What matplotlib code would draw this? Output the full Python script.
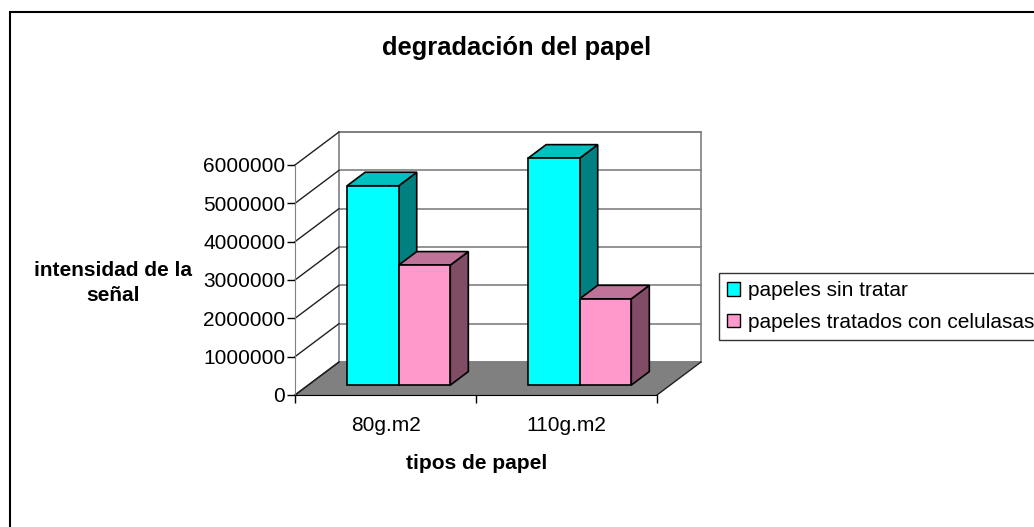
import matplotlib
matplotlib.use("Agg")
import matplotlib.pyplot as plt
from matplotlib.patches import Polygon, Patch, Rectangle
from matplotlib.lines import Line2D

plt.rcParams['font.family'] = ['Liberation Sans', 'DejaVu Sans']

categorias = ['80g.m2', '110g.m2']
series = ['papeles sin tratar', 'papeles tratados con celulasas']
sin_tratar = [5200000, 5920000]
tratados = [3130000, 2250000]
yticks = [0, 1000000, 2000000, 3000000, 4000000, 5000000, 6000000]

# face colours per series: front, top, side
caras = [('#00FFFF', '#00C0C0', '#008080'),
         ('#FF99CC', '#C07399', '#804C66')]

YMAX = 6000000
# oblique depth offset (full depth) in data units
DX = 0.243
DY = YMAX * 33 / 230
BW = 0.285          # bar width in category units
D0, D1 = 0.30, 0.71  # bar depth range


def P(x, v, d):
    return (x + DX * d, v + DY * d)


fig = plt.figure(figsize=(10.34, 5.27), dpi=100)
ax = fig.add_axes([295 / 1034, 1 - 395 / 527, 362 / 1034, 230 / 527])
ax.set_xlim(0, 2)
ax.set_ylim(0, YMAX)
ax.patch.set_visible(False)
for s in ['top', 'right']:
    ax.spines[s].set_visible(False)
ax.spines['left'].set_color('#808080')
ax.spines['bottom'].set_color('black')
ax.spines['left'].set_zorder(6)
ax.spines['bottom'].set_zorder(6)

ax.set_yticks(yticks)
ax.set_yticklabels([str(v) for v in yticks], fontsize=15)
ax.tick_params(axis='y', length=6, width=1, color='black', pad=1)
ax.set_xticks([0, 1, 2])
ax.set_xticklabels([])
ax.set_xticks([0.5, 1.5], minor=True)
ax.set_xticklabels(categorias, minor=True, fontsize=15)
ax.tick_params(axis='x', which='major', length=6, width=1, color='black')
ax.tick_params(axis='x', which='minor', length=0, pad=15)

# back wall and its gridlines
ax.add_patch(Polygon([P(0, 0, 1), P(2, 0, 1), P(2, YMAX, 1), P(0, YMAX, 1)],
                     closed=True, facecolor='white', edgecolor='#808080',
                     lw=1.2, clip_on=False, zorder=1))
for v in yticks:
    xs, ys = zip(P(0, v, 1), P(2, v, 1))
    ax.add_line(Line2D(xs, ys, color='#808080', lw=1.2, clip_on=False, zorder=1))
    xs, ys = zip(P(0, v, 0), P(0, v, 1))
    ax.add_line(Line2D(xs, ys, color='#202020', lw=1, clip_on=False, zorder=1.5))

# floor
ax.add_patch(Polygon([P(0, 0, 0), P(2, 0, 0), P(2, 0, 1), P(0, 0, 1)],
                     closed=True, facecolor='#808080', edgecolor='none',
                     clip_on=False, zorder=1.2))
xs, ys = zip(P(2, 0, 0), P(2, 0, 1))
ax.add_line(Line2D(xs, ys, color='#202020', lw=1, clip_on=False, zorder=1.5))
xs, ys = zip(P(0, 0, 0), P(0, 0, 1))
ax.add_line(Line2D(xs, ys, color='#202020', lw=1, clip_on=False, zorder=1.5))

# bars
z = 3
for i, c in enumerate([0.5, 1.5]):
    for j, vals in enumerate([sin_tratar, tratados]):
        h = vals[i]
        x0 = c - BW + j * BW
        x1 = x0 + BW
        fc, tc, sc = caras[j]
        front = [P(x0, 0, D0), P(x1, 0, D0), P(x1, h, D0), P(x0, h, D0)]
        top = [P(x0, h, D0), P(x1, h, D0), P(x1, h, D1), P(x0, h, D1)]
        side = [P(x1, 0, D0), P(x1, 0, D1), P(x1, h, D1), P(x1, h, D0)]
        for pts, col in [(side, sc), (top, tc), (front, fc)]:
            ax.add_patch(Polygon(pts, closed=True, facecolor=col,
                                 edgecolor='black', lw=1.2, clip_on=False,
                                 zorder=z))
        z += 1

ax.set_ylabel('intensidad de la\nseñal', rotation=0, fontsize=15,
              fontweight='bold', ha='center', va='center',
              multialignment='center', linespacing=1.35)
ax.yaxis.set_label_coords(-0.503, 0.487)
ax.set_xlabel('tipos de papel', fontsize=15, fontweight='bold')
ax.xaxis.set_label_coords(0.503, -0.255)

fig.text(0.5, 1 - 48 / 527, 'degradación del papel', fontsize=18.4,
         fontweight='bold', ha='center', va='center')

handles = [Patch(facecolor=caras[0][0], edgecolor='black', lw=1),
           Patch(facecolor=caras[1][0], edgecolor='black', lw=1)]
leg = fig.legend(handles, series, loc='upper left',
                 bbox_to_anchor=(719 / 1034, 1 - 273 / 527),
                 fontsize=15, frameon=True, fancybox=False, shadow=False,
                 handlelength=0.6, handleheight=0.6, handletextpad=0.4,
                 borderpad=0.4, labelspacing=0.6, borderaxespad=0)
leg.get_frame().set_edgecolor('black')
leg.get_frame().set_linewidth(1)

# chart area border (left and top edges visible)
fig.add_artist(Rectangle((10 / 1034, -0.1), 1.2, 1.1 - 12 / 527,
                         transform=fig.transFigure, fill=False,
                         edgecolor='black', lw=1.5))

fig.savefig('out.png', dpi=100)
